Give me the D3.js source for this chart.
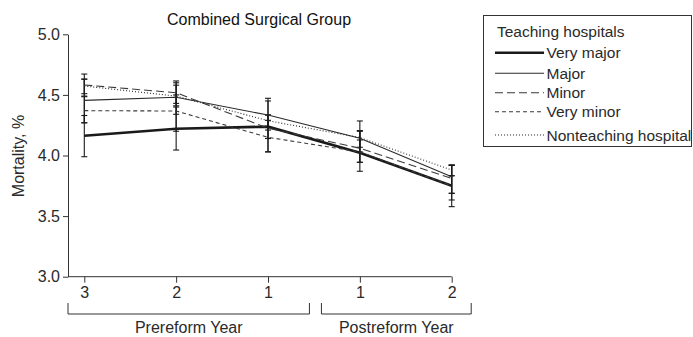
<!DOCTYPE html>
<html><head><meta charset="utf-8">
<script src="https://cdn.jsdelivr.net/npm/d3@7"></script>
<style>
html,body{margin:0;padding:0;background:#fff;}
svg{display:block;font-family:"Liberation Sans",Arial,Helvetica,sans-serif;}
</style></head>
<body><svg id="c" width="693" height="337"></svg>
<script>
const title = "Combined Surgical Group";
const yLabel = "Mortality, %";
const xLabels = ["3","2","1","1","2"];
const groups = [{name:"Prereform Year", from:0, to:2}, {name:"Postreform Year", from:3, to:4}];
const yTicks = [3.0,3.5,4.0,4.5,5.0];
const legendTitle = "Teaching hospitals";
const seriesNames = ["Very major","Major","Minor","Very minor","Nonteaching hospital"];
const veryMajor   = [4.163, 4.221, 4.238, 4.023, 3.751];
const major       = [4.455, 4.480, 4.334, 4.142, 3.825];
const minor       = [4.582, 4.518, 4.225, 4.060, 3.810];
const veryMinor   = [4.370, 4.367, 4.150, 4.030, 3.750];
const nonteaching = [4.573, 4.490, 4.287, 4.148, 3.880];
const veryMajorLo   = [3.99, 4.045, 4.03, 3.87, 3.578];
const veryMajorHi   = [4.33, 4.40, 4.45, 4.20, 3.92];
const majorLo       = [4.27, 4.34, 4.21, 4.03, 3.688];
const majorHi       = [4.63, 4.615, 4.472, 4.285, 3.92];
const minorLo       = [4.49, 4.43, 4.14, 3.944, 3.688];
const minorHi       = [4.672, 4.60, 4.334, 4.205, 3.92];
const veryMinorLo   = [4.27, 4.20, 4.03, 3.944, 3.633];
const veryMinorHi   = [4.485, 4.50, 4.29, 4.128, 3.833];
const nonteachingLo = [4.51, 4.41, 4.238, 4.068, 3.833];
const nonteachingHi = [4.63, 4.58, 4.334, 4.205, 3.92];

const values = [veryMajor, major, minor, veryMinor, nonteaching];
const los = [veryMajorLo, majorLo, minorLo, veryMinorLo, nonteachingLo];
const his = [veryMajorHi, majorHi, minorHi, veryMinorHi, nonteachingHi];
const styles = [
  {w:2.6, dash:null, color:"#1a1a1a"},
  {w:1.1, dash:null, color:"#2a2a2a"},
  {w:1.1, dash:"8,4", color:"#3a3a3a"},
  {w:1.1, dash:"4,3", color:"#3a3a3a"},
  {w:1.1, dash:"1,2", color:"#2a2a2a"}
];

const svg = d3.select("#c");
const txt = "#2a2a2a";
const x = d3.scaleLinear().domain([0,4]).range([84.3, 451.7]);
const y = d3.scaleLinear().domain([3,5]).range([276.7, 34.3]);
const axX0 = 68;

// y axis
const ya = svg.append("g").attr("transform",`translate(${axX0},0)`)
  .call(d3.axisLeft(y).tickValues(yTicks).tickFormat(d3.format(".1f")).tickSize(5).tickSizeOuter(0).tickPadding(3));
ya.select(".domain").attr("stroke","#333");
ya.selectAll(".tick line").attr("stroke","#333");
ya.selectAll("text").attr("font-size",16).attr("fill",txt).attr("font-family","inherit");

// x axis
const xa = svg.append("g").attr("transform",`translate(0,${y(3)})`)
  .call(d3.axisBottom(x).tickValues([0,1,2,3,4]).tickFormat(i=>xLabels[i]).tickSize(6).tickSizeOuter(0).tickPadding(4));
xa.select(".domain").remove();
xa.append("line").attr("x1",axX0).attr("x2",x(4)).attr("stroke","#333");
xa.selectAll(".tick line").attr("stroke","#333");
xa.selectAll("text").attr("font-size",16).attr("fill",txt).attr("font-family","inherit");

// group brackets
const bTop = 303, bBot = 314;
const gb = [
  {x1: axX0, x2: (x(2)+x(3))/2 - 4.5},
  {x1: (x(2)+x(3))/2 + 7.5, x2: x(4) + 19.5}
];
groups.forEach((g,i)=>{
  const b = gb[i];
  svg.append("path").attr("d",`M${b.x1},${bTop}V${bBot}H${b.x2}V${bTop}`)
    .attr("fill","none").attr("stroke","#333").attr("stroke-width",1);
  svg.append("text").attr("x",(b.x1+b.x2)/2).attr("y",333).attr("text-anchor","middle")
    .attr("font-size",16).attr("fill",txt).text(g.name);
});

// title & y label
svg.append("text").attr("x",259).attr("y",25).attr("text-anchor","middle")
  .attr("font-size",16).attr("fill","#111").text(title);
svg.append("text").attr("transform","translate(23.5,156) rotate(-90)").attr("text-anchor","middle")
  .attr("font-size",16).attr("fill",txt).text(yLabel);

// error bars
const idx = [0,1,2,3,4];
values.forEach((vals,s)=>{
  const g = svg.append("g").attr("stroke","#1a1a1a").attr("stroke-width",1.1).attr("fill","none");
  idx.forEach(i=>{
    const xi = x(i), y1 = y(los[s][i]), y2 = y(his[s][i]);
    g.append("line").attr("x1",xi).attr("x2",xi).attr("y1",y1).attr("y2",y2);
    g.append("line").attr("x1",xi-3).attr("x2",xi+3).attr("y1",y1).attr("y2",y1);
    g.append("line").attr("x1",xi-3).attr("x2",xi+3).attr("y1",y2).attr("y2",y2);
  });
});

// lines
const line = d3.line().x((d,i)=>x(i)).y(d=>y(d));
values.forEach((vals,s)=>{
  const st = styles[s];
  svg.append("path").datum(vals).attr("d",line).attr("fill","none")
    .attr("stroke",st.color).attr("stroke-width",st.w)
    .attr("stroke-dasharray",st.dash);
});

// legend
const lg = svg.append("g");
lg.append("rect").attr("x",483.5).attr("y",15.5).attr("width",208).attr("height",131)
  .attr("fill","#fff").attr("stroke","#333");
lg.append("text").attr("x",497).attr("y",37).attr("font-size",15.5).attr("fill",txt).text(legendTitle);
const ly = [52.7, 73.3, 92.7, 111.7, 135];
seriesNames.forEach((n,s)=>{
  const st = styles[s];
  lg.append("line").attr("x1",495).attr("x2",544).attr("y1",ly[s]).attr("y2",ly[s])
    .attr("stroke",st.color).attr("stroke-width",st.w).attr("stroke-dasharray",st.dash);
  lg.append("text").attr("x",546.5).attr("y",ly[s]+5.5).attr("font-size",15.5).attr("fill",txt).text(n);
});
</script></body></html>
